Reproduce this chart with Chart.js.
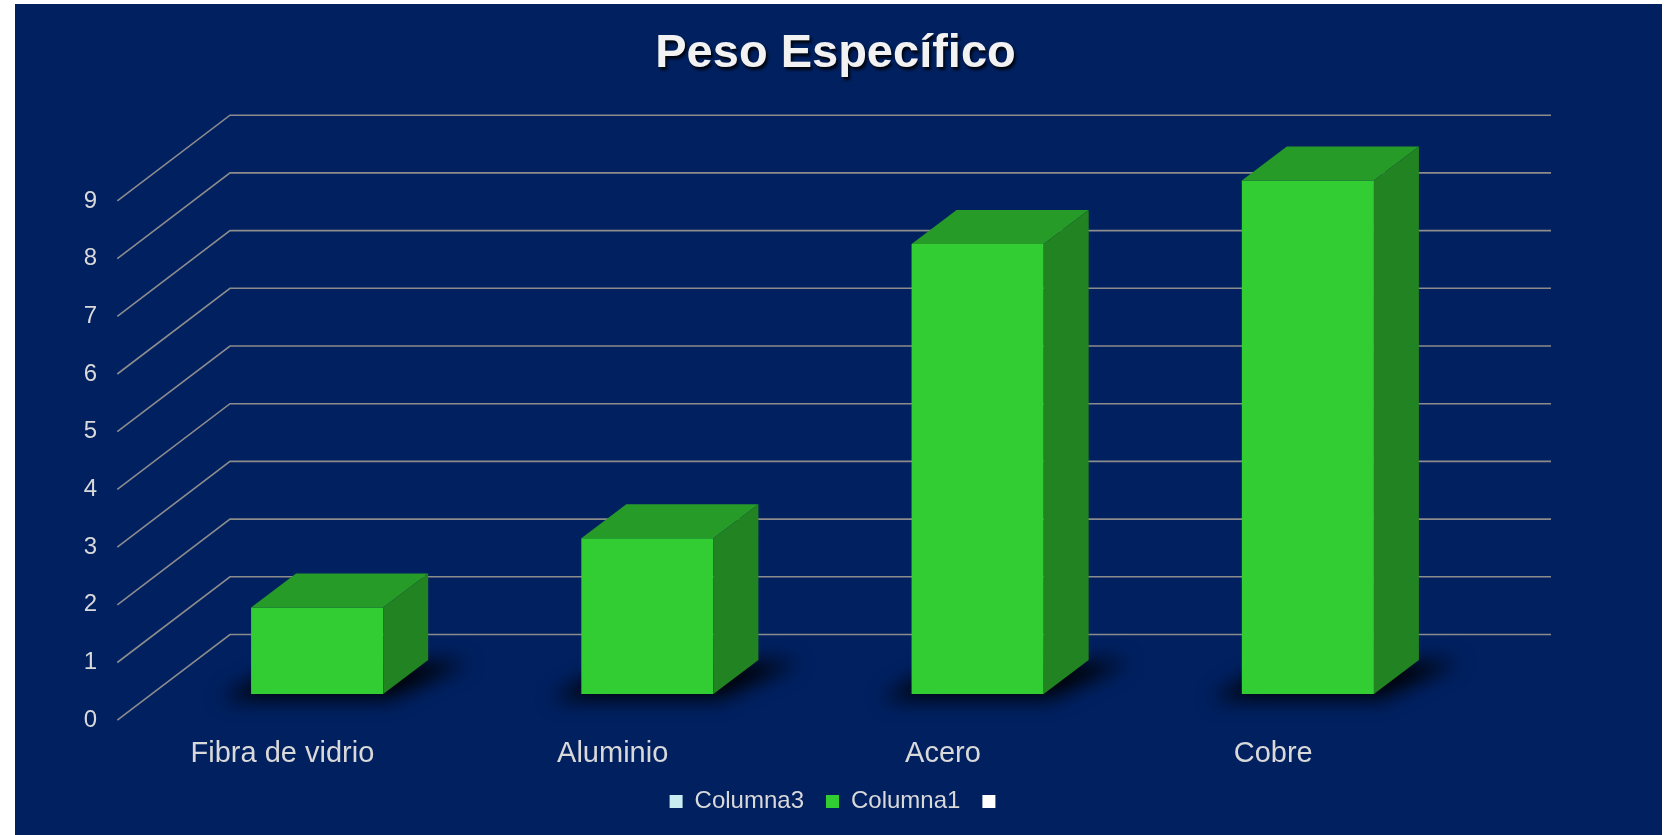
<!DOCTYPE html>
<html>
<head>
<meta charset="utf-8">
<title>Peso Específico</title>
<script src="https://cdn.jsdelivr.net/npm/chart.js@4.4.0/dist/chart.umd.min.js"></script>
<style>
  html, body { margin: 0; padding: 0; background: #ffffff; }
  #wrap { position: absolute; left: 15px; top: 4px; width: 1647px; height: 831px; background: #002060; }
</style>
</head>
<body>
<div id="wrap"><canvas id="pesoChart"></canvas></div>
<script>
let chartTitle = 'Peso Específico';
let materiales = ['Fibra de vidrio', 'Aluminio', 'Acero', 'Cobre'];
let columna3 = [null, null, null, null];
let columna1 = [1.5, 2.7, 7.8, 8.9];
let columnaVacia = [null, null, null, null];
let yTicks = [0, 1, 2, 3, 4, 5, 6, 7, 8, 9];

// fake 3d offsets (pixels)
const BACK_DX = 78, BACK_DY = -59.5;
const FRONT_DX = -34.7, FRONT_DY = 26.2;
const BAR_DX = 45, BAR_DY = -34;

const textGray = '#d9d9d9';
const fontFam = '"Liberation Sans", Arial, sans-serif';

let depth3d = {
  id: 'depth3d',
  beforeDatasetsDraw(chart) {
    let ctx = chart.ctx;
    let yScale = chart.scales.y;
    let {left, right} = chart.chartArea;
    ctx.save();
    ctx.strokeStyle = '#8c8c8c';
    ctx.lineWidth = 1.6;
    yTicks.forEach(v => {
      let py = yScale.getPixelForValue(v);
      ctx.beginPath();
      ctx.moveTo(left + FRONT_DX, py + FRONT_DY);
      ctx.lineTo(left + BACK_DX, py + BACK_DY);
      ctx.lineTo(right + BACK_DX, py + BACK_DY);
      ctx.stroke();
    });

    // shadow on the floor
    ctx.filter = 'blur(10px)';
    ctx.fillStyle = 'rgba(0,0,0,0.95)';
    chart.getDatasetMeta(1).data.forEach(bar => {
      let p = bar.getProps(['x', 'base', 'width'], true);
      let x0 = p.x - p.width / 2, x1 = p.x + p.width / 2;
      ctx.beginPath();
      ctx.moveTo(x0 - 30, p.base + 5);
      ctx.lineTo(x1 + 6, p.base + 5);
      ctx.lineTo(x1 + BAR_DX + 40, p.base + BAR_DY + 2);
      ctx.lineTo(x0 + BAR_DX - 10, p.base + BAR_DY + 2);
      ctx.closePath();
      ctx.fill();
    });
    ctx.restore();
  },
  afterDatasetsDraw(chart) {
    let ctx = chart.ctx;
    ctx.save();
    chart.getDatasetMeta(1).data.forEach(bar => {
      let p = bar.getProps(['x', 'y', 'base', 'width'], true);
      let x0 = p.x - p.width / 2, x1 = p.x + p.width / 2;
      // top
      ctx.fillStyle = '#279b27';
      ctx.beginPath();
      ctx.moveTo(x0, p.y);
      ctx.lineTo(x1, p.y);
      ctx.lineTo(x1 + BAR_DX, p.y + BAR_DY);
      ctx.lineTo(x0 + BAR_DX, p.y + BAR_DY);
      ctx.closePath();
      ctx.fill();
      // side
      ctx.fillStyle = '#228322';
      ctx.beginPath();
      ctx.moveTo(x1, p.y);
      ctx.lineTo(x1 + BAR_DX, p.y + BAR_DY);
      ctx.lineTo(x1 + BAR_DX, p.base + BAR_DY);
      ctx.lineTo(x1, p.base);
      ctx.closePath();
      ctx.fill();
    });
    ctx.restore();
  },
  afterDraw(chart) {
    let ctx = chart.ctx;
    ctx.save();
    ctx.font = 'bold 47px ' + fontFam;
    ctx.textAlign = 'center';
    ctx.textBaseline = 'alphabetic';
    ctx.shadowColor = 'rgba(0,0,0,0.85)';
    ctx.shadowOffsetX = 2;
    ctx.shadowOffsetY = 3;
    ctx.shadowBlur = 3;
    ctx.fillStyle = '#f2f2f2';
    ctx.fillText(chartTitle, chart.width / 2 - 3, 63);
    ctx.restore();
  }
};

let pesoCtx = document.getElementById('pesoChart').getContext('2d');

let peso_chart = new Chart(pesoCtx, {
  type: 'bar',
  data: {
    labels: materiales,
    datasets: [{
      label: 'Columna3',
      data: columna3,
      backgroundColor: '#c9ecf0',
      borderWidth: 0,
      grouped: false
    }, {
      label: 'Columna1',
      data: columna1,
      backgroundColor: '#32cd32',
      borderWidth: 0,
      grouped: false,
      barPercentage: 0.4,
      categoryPercentage: 1.0
    }, {
      label: '',
      data: columnaVacia,
      backgroundColor: '#ffffff',
      borderWidth: 0,
      grouped: false
    }]
  },
  options: {
    responsive: true,
    maintainAspectRatio: false,
    animation: false,
    layout: {
      padding: {left: 0, right: 0, top: 170.7, bottom: 11.5}
    },
    scales: {
      x: {
        grid: {display: false, drawTicks: false},
        border: {display: false},
        ticks: {
          color: textGray,
          font: {family: fontFam, size: 29},
          labelOffset: FRONT_DX,
          padding: 42.6,
          maxRotation: 0,
          autoSkip: false
        },
        afterFit: s => { s.height = 73.5; }
      },
      y: {
        min: 0,
        max: 9,
        grid: {display: false, drawTicks: false},
        border: {display: false},
        ticks: {
          stepSize: 1,
          color: textGray,
          font: {family: fontFam, size: 24},
          padding: 55,
          labelOffset: FRONT_DY
        },
        afterFit: s => { s.width = 137; }
      },
      yRight: {
        position: 'right',
        display: true,
        grid: {display: false, drawTicks: false},
        border: {display: false},
        ticks: {display: false},
        afterFit: s => { s.width = 189; }
      }
    },
    plugins: {
      title: {display: false},
      tooltip: {enabled: false},
      legend: {
        position: 'bottom',
        labels: {
          color: textGray,
          font: {family: fontFam, size: 24},
          boxWidth: 13,
          boxHeight: 13,
          padding: 22
        }
      }
    }
  },
  plugins: [depth3d]
});
</script>
</body>
</html>
